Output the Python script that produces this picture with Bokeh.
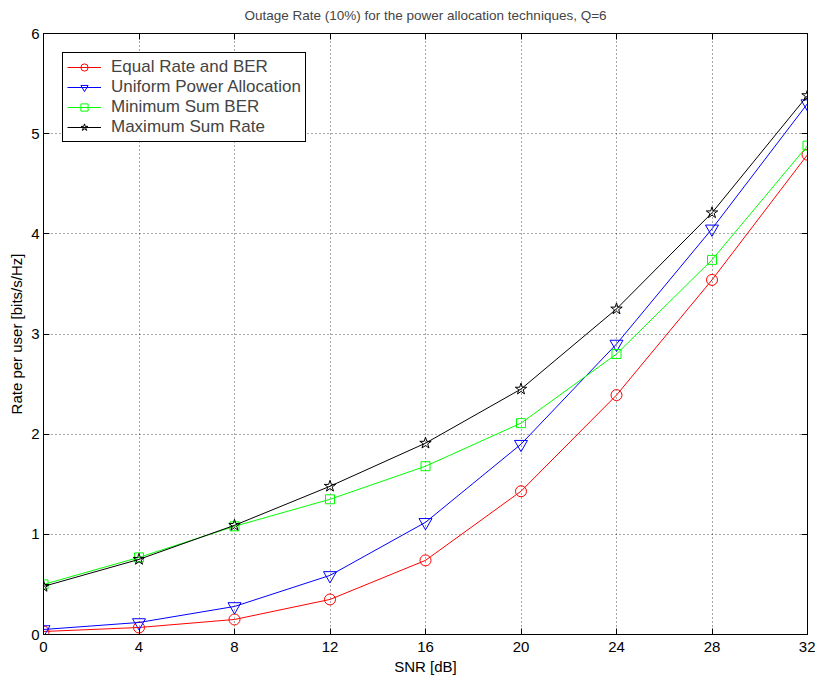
from bokeh.plotting import figure
from bokeh.models import LinearAxis, FixedTicker, Range1d, Legend, LegendItem
from bokeh.embed import file_html
from bokeh.resources import INLINE

snr = [0, 4, 8, 12, 16, 20, 24, 28, 32]
equal_rate_ber = [0.03, 0.07, 0.15, 0.35, 0.74, 1.43, 2.39, 3.54, 4.79]
uniform_power = [0.05, 0.12, 0.28, 0.59, 1.12, 1.90, 2.90, 4.05, 5.30]
min_sum_ber = [0.50, 0.77, 1.08, 1.35, 1.68, 2.11, 2.80, 3.74, 4.88]
max_sum_rate = [0.48, 0.75, 1.09, 1.48, 1.91, 2.45, 3.25, 4.21, 5.38]

x_ticks = [0, 4, 8, 12, 16, 20, 24, 28, 32]
y_ticks = [0, 1, 2, 3, 4, 5, 6]

FONT = "Liberation Sans"

p = figure(frame_width=764, frame_height=601, output_backend="svg", toolbar_location=None,
           x_range=Range1d(0, 32), y_range=Range1d(0, 6),
           min_border_left=43, min_border_right=8, min_border_top=34, min_border_bottom=10,
           title="Outage Rate (10%) for the power allocation techniques, Q=6",
           styles={"margin-top": "-6px"})
p.title.align = "center"
p.title.text_font = FONT
p.title.text_font_size = "13.5px"
p.title.text_font_style = "normal"
p.title.standoff = 22

p.outline_line_color = "black"
p.outline_line_width = 1
p.outline_line_alpha = 1

for ax in p.xaxis + p.yaxis:
    ax.major_tick_in = 6
    ax.major_tick_out = 0
    ax.minor_tick_line_color = None
    ax.axis_line_color = "black"
    ax.major_tick_line_color = "black"
    ax.major_label_text_font = FONT
    ax.major_label_text_font_size = "15px"
    ax.major_label_text_color = "black"
    ax.axis_label_text_font = FONT
    ax.axis_label_text_font_size = "15px"
    ax.axis_label_text_font_style = "normal"
    ax.axis_label_text_color = "black"
    ax.axis_label_standoff = 3

p.xaxis.major_label_standoff = 7
p.yaxis.major_label_standoff = 4
p.xaxis.ticker = FixedTicker(ticks=x_ticks)
p.yaxis.ticker = FixedTicker(ticks=y_ticks)
p.xaxis.axis_label = "SNR [dB]"
p.yaxis.axis_label = "Rate per user [bits/s/Hz]"

for loc, ticks in (("above", x_ticks), ("right", y_ticks)):
    ax = LinearAxis(ticker=FixedTicker(ticks=ticks))
    ax.major_tick_in = 6
    ax.major_tick_out = 0
    ax.minor_tick_line_color = None
    ax.major_label_overrides = {t: "" for t in ticks}
    ax.major_label_standoff = 0
    ax.axis_line_color = "black"
    p.add_layout(ax, loc)

p.grid.grid_line_color = "black"
p.grid.grid_line_alpha = 0.7
p.grid.grid_line_dash = "1 3"
p.xgrid.ticker = FixedTicker(ticks=x_ticks)
p.ygrid.ticker = FixedTicker(ticks=y_ticks)

series = [
    ("Equal Rate and BER", equal_rate_ber, "#ff0000", "circle", 11),
    ("Uniform Power Allocation", uniform_power, "#0000ff", "inverted_triangle", 13),
    ("Minimum Sum BER", min_sum_ber, "#00ff00", "square", 9),
    ("Maximum Sum Rate", max_sum_rate, "#000000", "star", 12),
]

items = []
for name, ys, color, marker, size in series:
    l = p.line(snr, ys, line_color=color, line_width=1)
    s = p.scatter(snr, ys, marker=marker, size=size, line_color=color, fill_color=None, line_width=1)
    items.append(LegendItem(label=name, renderers=[l, s]))

legend = Legend(items=items, location="top_left")
legend.margin = 19
legend.padding = 4
legend.spacing = 0
legend.label_standoff = 10
legend.label_text_font = FONT
legend.label_text_font_size = "17px"
legend.label_height = 18
legend.glyph_height = 18
legend.glyph_width = 34
legend.border_line_color = "black"
legend.border_line_width = 1
legend.border_line_alpha = 1
legend.background_fill_alpha = 1
p.add_layout(legend, "center")

p.background_fill_color = "white"
p.border_fill_color = "white"

open("out.html", "w").write(file_html(p, INLINE))
